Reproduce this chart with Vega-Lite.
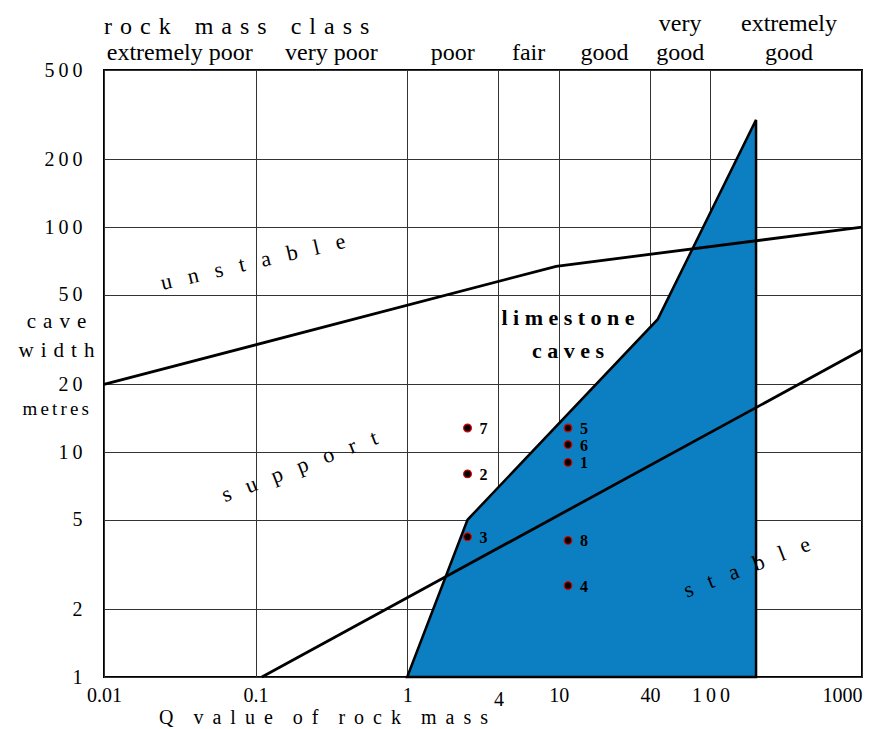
{
  "$schema": "https://vega.github.io/schema/vega-lite/v6.json",
  "width": 758,
  "height": 607,
  "autosize": {"type": "none"},
  "padding": {"left": 104, "top": 70, "right": 7, "bottom": 52},
  "background": "white",
  "config": {
    "font": "Liberation Serif",
    "view": {"stroke": "black", "strokeWidth": 2},
    "axis": {
      "zindex": 1, "domain": false, "ticks": false,
      "gridColor": "#333333", "gridWidth": 1, "gridOpacity": 1,
      "labelFont": "Liberation Serif", "labelFontSize": 20, "labelColor": "black",
      "titleFont": "Liberation Serif", "titleColor": "black", "titleFontWeight": "normal",
      "labelOverlap": false, "labelFlush": false, "labelBound": false
    },
    "text": {"font": "Liberation Serif", "color": "black"}
  },
  "datasets": {
    "caves": [
      {"q": 1, "w": 1},
      {"q": 2.5, "w": 5},
      {"q": 45, "w": 39},
      {"q": 200, "w": 300}
    ],
    "lines": [
      {"series": "unstable", "q": 0.01, "w": 20},
      {"series": "unstable", "q": 9.6, "w": 67},
      {"series": "unstable", "q": 1000, "w": 100},
      {"series": "stable", "q": 0.11, "w": 1},
      {"series": "stable", "q": 1000, "w": 28.5}
    ],
    "sites": [
      {"id": "7", "q": 2.5, "w": 12.8},
      {"id": "2", "q": 2.5, "w": 8.0},
      {"id": "3", "q": 2.5, "w": 4.2},
      {"id": "5", "q": 11.5, "w": 12.8},
      {"id": "6", "q": 11.5, "w": 10.8},
      {"id": "1", "q": 11.5, "w": 9.0},
      {"id": "8", "q": 11.5, "w": 4.05},
      {"id": "4", "q": 11.5, "w": 2.55}
    ],
    "classes": [
      {"label": "extremely poor", "q": 0.0316, "row": 2},
      {"label": "very poor", "q": 0.316, "row": 2},
      {"label": "poor", "q": 2, "row": 2},
      {"label": "fair", "q": 6.32, "row": 2},
      {"label": "good", "q": 20, "row": 2},
      {"label": "good", "q": 63.2, "row": 2},
      {"label": "good", "q": 330, "row": 2},
      {"label": "very", "q": 63.2, "row": 1},
      {"label": "extremely", "q": 330, "row": 1}
    ]
  },
  "layer": [
    {
      "data": {"name": "caves"},
      "mark": {"type": "area", "fill": "#0b7fc1", "stroke": "black", "strokeWidth": 2.5, "fillOpacity": 1},
      "encoding": {
        "x": {
          "field": "q", "type": "quantitative",
          "scale": {"type": "log", "domain": [0.01, 1000], "nice": false},
          "axis": {
            "values": [0.01, 0.1, 1, 4, 10, 40, 100, 1000],
            "grid": true,
            "labelBaseline": "top",
            "labelPadding": {"condition": {"test": "datum.value == 4", "value": 12}, "value": 8},
            "labelAlign": {"condition": {"test": "datum.value == 1000", "value": "right"}, "value": "center"},
            "labelExpr": "datum.value == 0.01 ? '0.01' : datum.value == 0.1 ? '0.1' : datum.value == 100 ? '1\u20090\u20090' : format(datum.value, 'd')",
            "title": "Q\u2003v\u00a0\u2009a\u00a0\u2009l\u00a0\u2009u\u00a0\u2009e\u2003o\u00a0\u2009f\u2003r\u00a0\u2009o\u00a0\u2009c\u00a0\u2009k\u2003m\u00a0\u2009a\u00a0\u2009s\u00a0\u2009s",
            "titleFontSize": 20,
            "titleX": 219,
            "titleY": 46,
            "titleAlign": "center",
            "titleBaseline": "alphabetic"
          }
        },
        "y": {
          "field": "w", "type": "quantitative",
          "scale": {"type": "log", "domain": [1, 500], "nice": false},
          "axis": {
            "values": [1, 2, 5, 10, 20, 50, 100, 200, 500],
            "grid": true,
            "labelPadding": 22,
            "labelBaseline": "middle",
            "labelExpr": "datum.value == 500 ? '5\u20090\u20090' : datum.value == 200 ? '2\u20090\u20090' : datum.value == 100 ? '1\u20090\u20090' : datum.value == 50 ? '5\u20090' : datum.value == 20 ? '2\u20090' : datum.value == 10 ? '1\u20090' : format(datum.value, 'd')",
            "title": ["c\u2004a\u2004v\u2004e", "w\u2004i\u2004d\u2004t\u2004h"],
            "titleAngle": 0,
            "titleX": -48,
            "titleY": 257,
            "titleAlign": "center",
            "titleBaseline": "alphabetic",
            "titleFontSize": 21,
            "titleLineHeight": 29
          }
        },
        "y2": {"datum": 1}
      }
    },
    {
      "data": {"name": "lines"},
      "mark": {"type": "line", "color": "black", "strokeWidth": 2.8},
      "encoding": {
        "x": {"field": "q", "type": "quantitative", "scale": {"type": "log", "domain": [0.01, 1000], "nice": false}},
        "y": {"field": "w", "type": "quantitative", "scale": {"type": "log", "domain": [1, 500], "nice": false}},
        "detail": {"field": "series"}
      }
    },
    {
      "data": {"name": "sites"},
      "mark": {"type": "circle", "fill": "black", "stroke": "#e00000", "strokeWidth": 1.2, "size": 60, "opacity": 1},
      "encoding": {
        "x": {"field": "q", "type": "quantitative", "scale": {"type": "log", "domain": [0.01, 1000], "nice": false}},
        "y": {"field": "w", "type": "quantitative", "scale": {"type": "log", "domain": [1, 500], "nice": false}}
      }
    },
    {
      "data": {"name": "sites"},
      "mark": {"type": "text", "align": "left", "baseline": "middle", "dx": 12, "dy": 1, "fontSize": 16, "fontWeight": "bold"},
      "encoding": {
        "x": {"field": "q", "type": "quantitative", "scale": {"type": "log", "domain": [0.01, 1000], "nice": false}},
        "y": {"field": "w", "type": "quantitative", "scale": {"type": "log", "domain": [1, 500], "nice": false}},
        "text": {"field": "id"}
      }
    },
    {
      "data": {"name": "classes"},
      "transform": [{"filter": "datum.row == 2"}],
      "mark": {"type": "text", "align": "center", "baseline": "alphabetic", "fontSize": 24},
      "encoding": {
        "x": {"field": "q", "type": "quantitative", "scale": {"type": "log", "domain": [0.01, 1000], "nice": false}},
        "y": {"datum": 554, "type": "quantitative", "scale": {"type": "log", "domain": [1, 500], "nice": false}},
        "text": {"field": "label"}
      }
    },
    {
      "data": {"name": "classes"},
      "transform": [{"filter": "datum.row == 1"}],
      "mark": {"type": "text", "align": "center", "baseline": "alphabetic", "fontSize": 24},
      "encoding": {
        "x": {"field": "q", "type": "quantitative", "scale": {"type": "log", "domain": [0.01, 1000], "nice": false}},
        "y": {"datum": 746, "type": "quantitative", "scale": {"type": "log", "domain": [1, 500], "nice": false}},
        "text": {"field": "label"}
      }
    },
    {
      "data": {"values": [{}]},
      "mark": {"type": "text", "align": "left", "baseline": "alphabetic", "fontSize": 24},
      "encoding": {
        "x": {"datum": 0.01, "type": "quantitative", "scale": {"type": "log", "domain": [0.01, 1000], "nice": false}},
        "y": {"datum": 722, "type": "quantitative", "scale": {"type": "log", "domain": [1, 500], "nice": false}},
        "text": {"value": "r\u2004o\u2004c\u2004k\u2003m\u2004a\u2004s\u2004s\u2003c\u2004l\u2004a\u2004s\u2004s"}
      }
    },
    {
      "data": {"values": [{}]},
      "mark": {"type": "text", "align": "center", "baseline": "alphabetic", "fontSize": 19},
      "encoding": {
        "x": {"datum": 0.0048, "type": "quantitative", "scale": {"type": "log", "domain": [0.01, 1000], "nice": false}},
        "y": {"datum": 14.6, "type": "quantitative", "scale": {"type": "log", "domain": [1, 500], "nice": false}},
        "text": {"value": "m\u2006e\u2006t\u2006r\u2006e\u2006s"}
      }
    },
    {
      "data": {"values": [{}]},
      "mark": {"type": "text", "align": "center", "baseline": "middle", "fontSize": 22, "angle": -13},
      "encoding": {
        "x": {"datum": 0.096, "type": "quantitative", "scale": {"type": "log", "domain": [0.01, 1000], "nice": false}},
        "y": {"datum": 70, "type": "quantitative", "scale": {"type": "log", "domain": [1, 500], "nice": false}},
        "text": {"value": "u\u2002\u00a0n\u2002\u00a0s\u2002\u00a0t\u2002\u00a0a\u2002\u00a0b\u2002\u00a0l\u2002\u00a0e"}
      }
    },
    {
      "data": {"values": [{}]},
      "mark": {"type": "text", "align": "center", "baseline": "middle", "fontSize": 22, "angle": -21},
      "encoding": {
        "x": {"datum": 0.195, "type": "quantitative", "scale": {"type": "log", "domain": [0.01, 1000], "nice": false}},
        "y": {"datum": 8.65, "type": "quantitative", "scale": {"type": "log", "domain": [1, 500], "nice": false}},
        "text": {"value": "s\u2002\u00a0u\u2002\u00a0p\u2002\u00a0p\u2002\u00a0o\u2002\u00a0r\u2002\u00a0t"}
      }
    },
    {
      "data": {"values": [{}]},
      "mark": {"type": "text", "align": "center", "baseline": "middle", "fontSize": 22, "angle": -21},
      "encoding": {
        "x": {"datum": 174, "type": "quantitative", "scale": {"type": "log", "domain": [0.01, 1000], "nice": false}},
        "y": {"datum": 3.08, "type": "quantitative", "scale": {"type": "log", "domain": [1, 500], "nice": false}},
        "text": {"value": "s\u2002\u00a0t\u2002\u00a0a\u2002\u00a0b\u2002\u00a0l\u2002\u00a0e"}
      }
    },
    {
      "data": {"values": [{}]},
      "mark": {"type": "text", "align": "center", "baseline": "alphabetic", "fontSize": 22, "fontWeight": "bold"},
      "encoding": {
        "x": {"datum": 11.5, "type": "quantitative", "scale": {"type": "log", "domain": [0.01, 1000], "nice": false}},
        "y": {"datum": 36.7, "type": "quantitative", "scale": {"type": "log", "domain": [1, 500], "nice": false}},
        "text": {"value": "l\u00a0i\u00a0m\u00a0e\u00a0s\u00a0t\u00a0o\u00a0n\u00a0e"}
      }
    },
    {
      "data": {"values": [{}]},
      "mark": {"type": "text", "align": "center", "baseline": "alphabetic", "fontSize": 22, "fontWeight": "bold"},
      "encoding": {
        "x": {"datum": 11.5, "type": "quantitative", "scale": {"type": "log", "domain": [0.01, 1000], "nice": false}},
        "y": {"datum": 26.1, "type": "quantitative", "scale": {"type": "log", "domain": [1, 500], "nice": false}},
        "text": {"value": "c\u00a0a\u00a0v\u00a0e\u00a0s"}
      }
    }
  ]
}
